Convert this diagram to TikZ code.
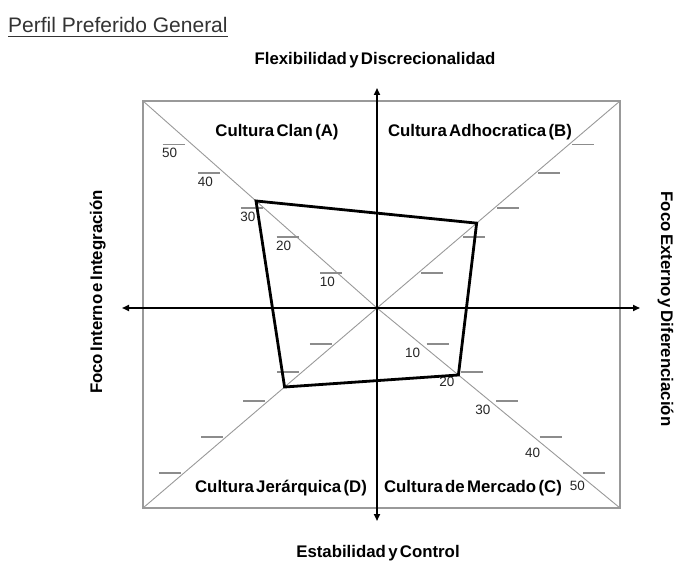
\documentclass[tikz,border=0pt]{standalone}
\usepackage{fontspec}
\setmainfont{Liberation Sans}
\newfontfamily\lblfont[WordSpace=0.5]{Liberation Sans}
\usetikzlibrary{calc,arrows.meta}
\tikzset{
	frame/.style={draw=black!40, line width=1.5pt},
	diag/.style={draw=black!40, line width=0.9pt},
	tick/.style={draw=black!45, line width=1.1pt},
	axis/.style={line width=1.7pt, {Triangle[length=7pt,width=6pt]}-{Triangle[length=7pt,width=6pt]}},
	profile/.style={line width=2.8pt, line join=miter},
	lbl/.style={font=\lblfont\bfseries\fontsize{16.8}{18}\selectfont, inner sep=0pt, anchor=base},
	num/.style={font=\fontsize{13.5}{14}\selectfont, text=black!85, inner sep=0pt},
}

\begin{document}
\begin{tikzpicture}[x=1pt, y=-1pt]
			%%%%% START %%%%%
			\useasboundingbox (0,0) rectangle (677,561);
			
			\coordinate (O) at (377,308);
			\coordinate (TL) at (143,101);
			\coordinate (TR) at (620,101);
			\coordinate (BR) at (620,508);
			\coordinate (BL) at (143,508);
			
			\draw[frame] (TL) rectangle (BR);
			\draw[diag] (TL) -- (O) -- (BR);
			\draw[diag] (TR) -- (O) -- (BL);
			
			\foreach \v/\fu/\fl/\cx/\cy in {10/0.169/0.18/-8/9, 20/0.343/0.32/-8/10, 30/0.483/0.465/-7/9, 40/0.652/0.645/-1/16, 50/0.792/0.825/0/13}{
				\coordinate (ta\v) at ($(O)!\fu!(TL)$);
				\coordinate (tb\v) at ($(O)!\fu!(TR)$);
				\coordinate (tc\v) at ($(O)!\fl!(BR)$);
				\coordinate (td\v) at ($(O)!\fl!(BL)$);
				\draw[tick] (ta\v) ++({-14-0.3*\v},0) -- ++(22,0);
				\draw[tick] (tb\v) ++(3,0) -- ++(22,0);
				\draw[tick] (tc\v) ++(6,0) -- ++(22,0);
				\draw[tick] (td\v) ++(-25,0) -- ++(22,0);
				\node[num] (la\v) at ($(ta\v)+({-7-0.3*\v},9)$) {\v};
				\node[num] (lc\v) at ($(tc\v)+(\cx,\cy)$) {\v};
			}
			
			\coordinate (top) at (377,88);
			\coordinate (bottom) at (377,521);
			\coordinate (left) at (122,308);
			\coordinate (right) at (640,308);
			\draw[axis] (bottom) -- (top);
			\draw[axis] (left) -- (right);
			
			\coordinate (pA) at ($(O)!0.517!(TL)$);
			\coordinate (pB) at ($(O)!0.41!(TR)$);
			\coordinate (pC) at ($(O)!0.335!(BR)$);
			\coordinate (pD) at ($(O)!0.395!(BL)$);
			\draw[profile] (pA) -- (pB) -- (pC) -- (pD) -- cycle;
			
			\node[font=\fontsize{21}{24}\selectfont, text=black!80, inner sep=0pt, anchor=base west] (title) at (8,33) {Perfil Preferido General};
			\draw[black!80, line width=1.5pt] ($(title.base west)+(0,3.5)$) -- ($(title.base east)+(0,3.5)$);
			
			\node[lbl] (flex) at (375,65) {Flexibilidad y Discrecionalidad};
			\node[lbl] (estab) at (378,557) {Estabilidad y Control};
			\node[lbl, rotate=90] (interno) at (102,292) {Foco Interno e Integración};
			\node[lbl, rotate=-90] (externo) at (661,309) {Foco Externo y Diferenciación};
			
			\node[lbl] (clan) at (277,137) {Cultura Clan (A)};
			\node[lbl] (adhoc) at (480,137) {Cultura Adhocratica (B)};
			\node[lbl] (jerar) at (281,492) {Cultura Jerárquica (D)};
			\node[lbl] (merc) at (473,492) {Cultura de Mercado (C)};
			%%%%% END %%%%%
\end{tikzpicture}
\end{document}
